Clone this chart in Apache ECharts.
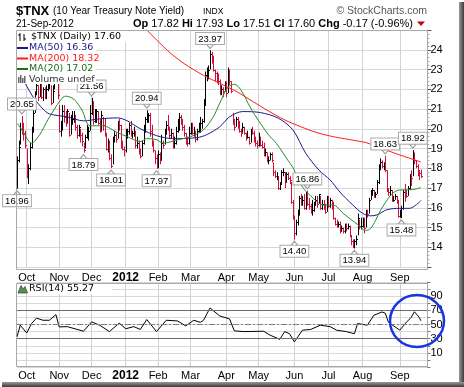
<!DOCTYPE html>
<html><head><meta charset="utf-8">
<script src="https://cdn.jsdelivr.net/npm/echarts/dist/echarts.min.js"></script>
<style>html,body{margin:0;padding:0;background:#fff;overflow:hidden}#c{width:464px;height:387px}</style>
</head><body><div id="c"></div>
<script>
// ---------- DATA ----------
const holidays = ['2011-10-10','2011-11-11','2011-11-24','2011-12-26','2012-01-02','2012-01-16',
  '2012-02-20','2012-04-06','2012-05-28','2012-07-04','2012-09-03'];
const firstDay = '2011-09-23', lastDay = '2012-09-21';
const prevClose0 = 17.2; // close of the day before the first bar

const highs = [
 18.6,19.4,20.3,20.65,20.3,19.9,
 19.0,18.2,19.3,20.1,21.1,21.9,22.6,22.2,22.7,22.6,22.1,22.1,22.2,22.5,22.5,22.2,22.2,24.2,24.1,23.3,
 21.2,20.4,21.2,21.2,20.9,21.0,20.8,20.7,20.9,20.9,20.7,20.2,20.2,20.0,19.8,19.3,19.7,20.2,20.1,21.2,
 21.56,21.4,21.0,21.0,20.9,20.5,20.9,20.6,20.5,19.8,19.5,19.4,18.7,19.6,19.9,19.8,20.4,20.5,20.2,19.4,19.1,
 20.0,20.0,20.3,20.4,19.9,20.1,19.9,19.6,19.4,19.0,19.4,20.2,20.6,20.94,20.8,20.8,20.2,19.4,18.9,18.7,
 18.9,18.8,19.7,19.4,20.0,20.4,20.7,20.1,20.0,19.8,19.6,20.1,20.5,20.8,20.7,20.5,20.2,19.8,19.6,20.1,
 20.3,20.3,20.1,19.9,20.0,20.3,20.6,20.5,21.5,22.9,23.1,23.2,23.97,23.9,23.7,23.0,22.9,22.8,22.5,22.2,22.1,22.4,
 22.4,23.1,23.0,22.4,20.8,20.5,20.6,20.6,20.4,20.0,20.3,20.1,19.8,19.9,19.6,20.0,20.1,19.9,19.6,19.4,
 19.8,19.6,19.4,19.3,19.0,18.8,18.6,18.8,18.8,18.3,17.9,17.8,17.6,17.3,17.9,18.0,17.8,17.8,17.8,17.6,17.3,16.4,
 15.6,15.4,15.9,16.6,16.7,16.6,16.7,16.8,16.86,16.5,16.2,16.4,16.3,16.6,16.6,16.7,16.6,16.4,16.4,16.2,16.6,
 16.6,16.5,16.4,16.3,15.5,15.4,15.3,15.3,15.1,15.0,15.2,15.2,15.2,15.1,14.6,14.4,14.4,14.6,15.7,15.4,15.5,
 15.5,15.5,15.9,15.9,16.5,16.9,17.0,16.9,16.8,17.4,18.2,18.5,18.4,18.3,18.63,17.9,17.0,17.1,16.9,16.6,16.7,16.6,16.4,
 15.9,16.1,16.9,17.2,16.9,17.1,17.7,17.9,18.92,18.8,18.4,18.2,17.9,17.93
];
const lows = [
 16.96,18.3,19.2,19.7,19.4,19.0,
 17.5,17.2,17.9,19.0,19.8,20.8,21.7,21.4,21.6,21.5,21.4,21.5,21.5,21.9,22.0,21.2,21.3,22.0,23.2,21.5,
 19.8,19.6,19.9,20.3,20.1,20.3,19.6,19.7,20.2,20.3,19.9,19.5,19.6,19.3,19.1,18.79,19.0,19.5,19.4,19.9,
 20.7,20.2,20.3,20.3,20.2,19.8,19.9,19.9,19.6,18.9,18.8,18.4,18.01,18.2,19.3,19.3,19.5,19.9,19.0,18.9,18.6,
 18.8,19.5,19.7,19.6,19.5,19.6,19.0,19.0,18.7,18.5,18.6,19.2,19.8,20.3,20.3,19.6,19.1,18.8,18.2,17.97,
 18.0,18.2,18.4,19.0,19.2,19.7,19.9,19.5,19.5,19.0,19.0,19.2,19.8,19.9,20.2,19.9,19.6,19.2,19.1,19.2,
 19.7,19.7,19.6,19.3,19.4,19.8,19.8,20.0,20.3,21.2,22.4,22.5,23.0,23.3,22.9,22.4,22.3,22.2,21.7,21.7,21.6,21.9,
 21.6,21.8,22.2,21.8,20.2,19.9,20.1,20.0,19.8,19.6,19.8,19.7,19.4,19.5,19.2,19.3,19.7,19.3,19.1,19.0,
 19.1,19.1,19.0,18.6,18.6,18.3,18.2,18.4,18.3,17.6,17.5,17.4,16.9,16.9,17.2,17.6,17.0,17.3,17.4,17.2,16.2,15.4,
 14.40,14.6,15.1,15.6,16.1,16.1,15.9,15.9,16.1,15.9,15.7,15.6,15.8,16.1,16.0,16.2,15.9,15.9,15.9,15.7,15.8,
 16.0,16.0,15.9,15.4,15.1,15.0,15.0,14.7,14.8,14.7,14.7,14.8,14.9,14.5,14.1,13.97,13.94,14.1,14.6,14.9,14.9,
 15.0,14.7,15.0,15.5,15.7,16.4,16.6,16.5,16.5,16.7,17.2,17.9,18.0,17.9,17.8,16.8,16.6,16.6,16.3,16.3,16.4,16.2,15.5,
 15.5,15.48,15.9,16.3,16.5,16.6,16.9,17.1,17.6,18.2,18.0,17.6,17.4,17.51
];
const closes = [
 18.4,19.1,20.0,19.9,19.8,19.2,
 17.6,18.0,19.1,20.0,20.8,21.8,22.2,21.6,22.6,21.6,22.0,21.7,22.0,22.3,22.3,21.3,21.9,24.0,23.3,21.7,
 19.9,20.0,20.9,20.6,20.3,20.9,19.7,20.5,20.5,20.6,20.1,19.7,20.1,19.7,19.4,18.9,19.6,19.6,19.9,20.8,
 21.1,20.4,20.5,20.9,20.3,19.9,20.7,20.2,19.8,19.0,19.3,18.5,18.1,19.5,19.7,19.5,20.3,20.2,19.1,19.0,18.9,
 19.7,19.9,20.2,19.8,19.8,19.8,19.2,19.3,18.9,18.6,19.3,19.9,20.5,20.7,20.7,19.9,19.3,18.9,18.5,18.3,
 18.7,18.4,19.3,19.2,19.8,20.2,20.0,19.7,19.8,19.1,19.3,19.9,20.0,20.6,20.5,20.1,19.8,19.4,19.3,19.8,
 20.2,19.8,19.9,19.5,19.9,20.1,20.3,20.4,21.2,22.7,22.9,23.0,23.8,23.6,23.0,22.8,22.5,22.4,21.8,22.0,21.9,22.3,
 21.8,23.0,22.4,21.9,20.3,20.1,20.5,20.3,19.9,19.8,20.1,19.8,19.6,19.6,19.3,19.9,19.8,19.4,19.3,19.2,
 19.5,19.2,19.1,18.8,18.8,18.4,18.4,18.7,18.4,17.8,17.6,17.6,17.0,17.2,17.8,17.8,17.3,17.7,17.5,17.4,16.3,15.6,
 14.7,15.3,15.7,16.5,16.3,16.4,16.0,16.6,16.2,16.1,15.8,15.9,16.2,16.4,16.2,16.7,16.0,16.2,16.0,15.8,16.5,
 16.1,16.4,16.0,15.5,15.2,15.1,15.2,14.8,15.0,14.8,15.1,15.0,15.1,14.6,14.3,14.0,14.3,14.4,15.5,15.1,15.1,
 15.3,15.0,15.8,15.7,16.4,16.9,16.9,16.6,16.7,17.3,18.1,18.3,18.1,18.1,17.9,16.9,16.8,16.9,16.4,16.4,16.6,16.3,15.6,
 15.7,16.0,16.8,16.7,16.6,17.0,17.6,17.5,18.7,18.4,18.1,17.9,17.77,17.60
];
const lastOpen = 17.82;

// moving averages, read at sample points (trading-day index -> value)
const ma50Idx  = [0,5,10,16,20,31,41,51,62,68,76,86,96,111,117,125,131,139,150,161,170,178,186,193,199,207,213,218,222,228,236,242,249];
const ma50Val  = [23.0,22.3,21.6,21.0,20.75,20.6,20.4,20.5,20.55,20.4,20.0,19.65,19.5,19.55,19.7,20.1,20.6,20.87,20.82,20.54,19.95,18.76,17.92,17.41,16.8,16.14,15.72,15.59,15.64,15.9,15.97,15.97,16.36];
const ma200Idx = [0,30,60,80,86,95,103,115,125,135,145,155,165,175,185,195,205,215,225,235,249];
const ma200Val = [31.0,28.7,26.6,25.0,24.5,23.8,23.3,22.7,22.3,21.9,21.4,20.9,20.45,20.1,19.8,19.6,19.45,19.3,19.0,18.7,18.32];
const ma20Idx  = [0,3,9,14,19,27,30,35,40,45,53,62,68,76,80,86,90,99,107,115,121,125,130,134,138,144,149,155,160,167,170,173,176,181,189,195,201,206,210,215,218,221,224,227,230,233,236,244,249];
const ma20Val  = [20.28,19.95,19.27,19.7,20.45,21.47,21.65,21.5,20.95,20.15,20.15,19.8,19.6,19.35,19.5,19.45,19.27,19.44,19.6,19.95,20.6,21.3,22.1,22.25,21.97,21.05,20.4,19.7,19.25,18.4,18.05,17.5,17.05,16.6,16.14,16.14,15.72,15.4,15.15,14.85,14.95,15.35,15.85,16.25,16.6,16.82,16.9,16.92,17.02];
const rsiIdx = [0,2,6,9,12,16,20,24,26,31,41,46,51,57,63,67,72,76,80,86,92,99,104,109,113,115,119,125,131,134,140,152,156,162,165,168,171,176,181,187,193,197,203,208,210,216,220,225,227,229,236,240,243,245,248,249];
const rsiVal = [32.5,49,38,51.4,59,56,56,64,46.6,47,40.5,53.7,49,40,52,44,47,43,57,40,56,55,48,56,53,56,73.4,62,58,41,40,40.5,35,29,40,37,25.5,42,43,49,47,42,40,37,51.4,49,63,67.7,66,53,42,53,60,68,60,55.27];

// annotated highs / lows
const annDates = ['2011-09-23','2011-09-28','2011-11-23','2011-12-01','2011-12-19','2012-01-23','2012-01-31','2012-03-19','2012-06-01','2012-06-13','2012-07-25','2012-08-21','2012-09-05','2012-09-14'];
const annKinds = ['low','high','low','high','low','high','low','high','low','high','low','high','low','high'];

// ---------- CALENDAR ----------
const dates = [];
for (let t = Date.parse(firstDay + 'T00:00:00Z'); t <= Date.parse(lastDay + 'T00:00:00Z'); t += 86400000) {
  const d = new Date(t), wd = d.getUTCDay(), s = d.toISOString().slice(0, 10);
  if (wd === 0 || wd === 6 || holidays.includes(s)) continue;
  dates.push(s);
}
const categories = dates.concat(['pad1','pad2','pad3','pad4']);
const monthNames = ['2012','Feb','Mar','Apr','May','Jun','Jul','Aug','Sep','Oct','Nov','Dec'];
const monStart = (i) => i > 0 && i < dates.length && dates[i].slice(5,7) !== dates[i-1].slice(5,7);
const monLabel = (v, i) => {
  if (!monStart(i)) return '';
  const m = +dates[i].slice(5,7);
  return m === 1 ? '{y|2012}' : monthNames[m-1];
};

const N = dates.length;
const barData = dates.map((d, i) => [i, highs[i], lows[i], closes[i],
  closes[i] < (i ? closes[i-1] : prevClose0) ? 1 : 0]);
const pairs = (idx, val) => idx.map((i, k) => [i, val[k]]);

const FONT = 'Liberation Sans';
const LFONT = 'DejaVu Sans';
const RED = '#d0103a';

const markPts = annDates.map((d, k) => {
  const i = dates.indexOf(d);
  const hi = annKinds[k] === 'high';
  const v = hi ? highs[i] : lows[i];
  return {
    coord: [i, v], value: v,
    symbol: 'triangle', symbolRotate: hi ? 180 : 0, symbolSize: [7, 4], symbolOffset: [0, hi ? -4 : 4],
    itemStyle: {color: '#fff', borderColor: '#999', borderWidth: 1},
    label: {show: true, position: hi ? 'top' : 'bottom', distance: 0,
      formatter: v.toFixed(2), fontFamily: FONT, fontSize: 9.5, color: '#000',
      backgroundColor: '#fff', borderColor: '#aaa', borderWidth: 1, padding: [1, 2, 0, 2]}
  };
});

const last = N - 1;
const chg = closes[last] - closes[last-1];
const pct = chg / closes[last-1] * 100;
const mon3 = ['Jan','Feb','Mar','Apr','May','Jun','Jul','Aug','Sep','Oct','Nov','Dec'];
const dateLabel = (+dates[last].slice(8,10)) + '-' + mon3[+dates[last].slice(5,7)-1] + '-' + dates[last].slice(0,4);

// ---------- GRAPHICS (header, legends, frames) ----------
const g = [];
g.push({type:'text', x:16, y:11, z:100, style:{text:'$TNX', font:'bold 13px "'+FONT+'"', fill:'#000', verticalAlign:'middle'}});
g.push({type:'text', x:53, y:11, z:100, style:{text:'(10 Year Treasury Note Yield)', font:'10px "'+FONT+'"', fill:'#000', verticalAlign:'middle'}});
g.push({type:'text', x:203, y:12, z:100, style:{text:'INDX', font:'8.5px "'+FONT+'"', fill:'#000', verticalAlign:'middle'}});
g.push({type:'text', x:427, y:11, z:100, style:{text:'\u00a9 StockCharts.com', font:'10.5px "'+FONT+'"', fill:'#555', align:'right', verticalAlign:'middle'}});
g.push({type:'text', x:16, y:24, z:100, style:{text:dateLabel, font:'10px "'+FONT+'"', fill:'#000', verticalAlign:'middle'}});
g.push({type:'text', x:413, y:24, z:100, style:{
  text:'{b|Op} ' + lastOpen.toFixed(2) + ' {b|Hi} ' + highs[last].toFixed(2) + ' {b|Lo} ' + lows[last].toFixed(2) +
       ' {b|Cl} ' + closes[last].toFixed(2) + ' {b|Chg} ' + chg.toFixed(2) + ' (' + pct.toFixed(2) + '%)',
  font:'11px "'+FONT+'"', fill:'#000', align:'right', verticalAlign:'middle',
  rich:{b:{fontWeight:'bold', fontSize:11, fontFamily:FONT}}}});
g.push({type:'polygon', z:100, shape:{points:[[417,21.5],[425,21.5],[421,26]]}, style:{fill:'#cc0000'}});

// frames
g.push({type:'rect', z:50, shape:{x:16.5, y:30.5, width:411, height:239}, style:{fill:null, stroke:'#a8a8a8', lineWidth:1}});
g.push({type:'rect', z:50, shape:{x:16.5, y:283.5, width:411, height:83}, style:{fill:null, stroke:'#a8a8a8', lineWidth:1}});

// price legend
g.push({type:'rect', z:90, shape:{x:17, y:31, width:122, height:11}, style:{fill:'#fff'}});
g.push({type:'rect', z:90, shape:{x:17, y:42, width:79, height:42}, style:{fill:'#fff'}});
g.push({type:'polyline', z:95, shape:{points:[[20,33],[20,41]]}, style:{stroke:'#000', lineWidth:1}});
g.push({type:'polyline', z:95, shape:{points:[[18,35],[20,35]]}, style:{stroke:'#000', lineWidth:1}});
g.push({type:'polyline', z:95, shape:{points:[[24,34],[24,41]]}, style:{stroke:'#000', lineWidth:1}});
g.push({type:'polyline', z:95, shape:{points:[[24,39],[26,39]]}, style:{stroke:'#000', lineWidth:1}});
g.push({type:'text', x:31, y:37, z:96, style:{text:'$TNX (Daily) ' + closes[last].toFixed(2), font:'9.5px "'+LFONT+'"', fill:'#000', verticalAlign:'middle'}});
const legRows = [
  {t:'MA(50) ' + ma50Val[ma50Val.length-1].toFixed(2), c:'#1a1a8e', y:48},
  {t:'MA(200) ' + ma200Val[ma200Val.length-1].toFixed(2), c:'#ff1a1a', y:58.5},
  {t:'MA(20) ' + ma20Val[ma20Val.length-1].toFixed(2), c:'#1e6e1e', y:69}
];
legRows.forEach(r => {
  g.push({type:'rect', z:95, shape:{x:17, y:r.y-1, width:11, height:2}, style:{fill:r.c}});
  g.push({type:'text', x:29, y:r.y, z:96, style:{text:r.t, font:'9.5px "'+LFONT+'"', fill:r.c, verticalAlign:'middle'}});
});
[[18,77],[20,75],[22,78],[24,76]].forEach(b => g.push({type:'rect', z:95, shape:{x:b[0], y:b[1], width:1.5, height:83-b[1]}, style:{fill:'#666'}}));
g.push({type:'text', x:29, y:79.5, z:96, style:{text:'Volume undef', font:'9.5px "'+LFONT+'"', fill:'#333', verticalAlign:'middle'}});

// RSI legend
g.push({type:'rect', z:90, shape:{x:17, y:284, width:95, height:10}, style:{fill:'#fff'}});
g.push({type:'polygon', z:95, shape:{points:[[18,293],[21,285.5],[23,289],[25,286.5],[27.5,293]]}, style:{fill:'#5a8a5a', stroke:'#2e5e2e', lineWidth:0.8}});
g.push({type:'text', x:29, y:289, z:96, style:{text:'RSI(14) ' + rsiVal[rsiVal.length-1].toFixed(2), font:'9.5px "'+LFONT+'"', fill:'#000', verticalAlign:'middle'}});

// highlight circle
g.push({type:'ellipse', z:120, shape:{cx:417, cy:321, rx:27, ry:26}, style:{fill:null, stroke:'#1536e6', lineWidth:2.5}});

// drop shadow
g.push({type:'rect', z:1, shape:{x:459, y:2, width:5, height:385}, style:{fill:{type:'linear', x:0, y:0, x2:1, y2:0, colorStops:[{offset:0, color:'#9a9a9a'},{offset:1, color:'#3a3a3a'}]}}});
g.push({type:'rect', z:1, shape:{x:2, y:382, width:462, height:5}, style:{fill:{type:'linear', x:0, y:0, x2:0, y2:1, colorStops:[{offset:0, color:'#9a9a9a'},{offset:1, color:'#3a3a3a'}]}}});

// ---------- CHART ----------
const xCommon = (gi, margin) => ({
  type:'category', gridIndex:gi, data:categories, boundaryGap:false,
  axisLine:{show:false}, axisTick:{show:false},
  axisLabel:{interval:(i) => monStart(i), formatter:monLabel, fontFamily:FONT, fontSize:11, color:'#000', margin:margin,
    hideOverlap:false, rich:{y:{fontWeight:'bold', fontFamily:FONT, fontSize:12, color:'#000'}}},
  splitLine:{show:true, interval:(i) => monStart(i), lineStyle:{color:'#d2d2d2', width:1}}
});

const option = {
  animation:false,
  backgroundColor:'#fff',
  grid:[
    {left:17, top:30, width:410.4, height:237, outerBoundsMode:'none', containLabel:false},
    {left:17, top:282, width:410.4, height:85, outerBoundsMode:'none', containLabel:false}
  ],
  xAxis:[xCommon(0, 5), xCommon(1, 3)],
  yAxis:[
    {type:'value', gridIndex:0, position:'right', min:13, max:25, interval:1,
     axisLine:{show:true, lineStyle:{color:'#aaa'}}, axisTick:{show:true, length:4, lineStyle:{color:'#555'}},
     minorTick:{show:true, splitNumber:5, length:2, lineStyle:{color:'#aaa'}},
     axisLabel:{formatter:(v) => (v >= 14 && v <= 24) ? String(v) : '', fontFamily:FONT, fontSize:11, color:'#000', margin:3},
     splitLine:{show:true, lineStyle:{color:'#d8d8d8'}}},
    {type:'value', gridIndex:1, position:'right', min:-10, max:110, interval:10,
     axisLine:{show:true, lineStyle:{color:'#aaa'}}, axisTick:{show:true, length:3, lineStyle:{color:'#777'}},
     axisLabel:{formatter:(v) => [10,30,50,70,90].includes(v) ? String(v) : '', fontFamily:FONT, fontSize:11, color:'#000', margin:3},
     splitLine:{show:true, lineStyle:{color:'#d8d8d8'}}}
  ],
  series:[
    {type:'custom', name:'$TNX', xAxisIndex:0, yAxisIndex:0, data:barData, clip:true, z:3,
     encode:{x:0, y:[1,2,3]},
     renderItem:(params, api) => {
       const i = api.value(0);
       const top = api.coord([i, api.value(1)]);
       const bot = api.coord([i, api.value(2)]);
       const cl = api.coord([i, api.value(3)]);
       const x = Math.round(top[0]) + 0.5;
       const yc = Math.round(cl[1]) + 0.5;
       const color = api.value(4) ? RED : '#000';
       return {type:'group', children:[
         {type:'line', shape:{x1:x, y1:top[1], x2:x, y2:bot[1]}, style:{stroke:color, lineWidth:1}},
         {type:'line', shape:{x1:x, y1:yc, x2:x+1.5, y2:yc}, style:{stroke:color, lineWidth:1}}
       ]};
     }},
    {type:'line', name:'MA(50)', xAxisIndex:0, yAxisIndex:0, data:pairs(ma50Idx, ma50Val), smooth:0.3,
     symbol:'none', lineStyle:{color:'#1a1a8e', width:1}, z:4},
    {type:'line', name:'MA(200)', xAxisIndex:0, yAxisIndex:0, data:pairs(ma200Idx, ma200Val), smooth:0.3,
     symbol:'none', lineStyle:{color:'#ff1a1a', width:1}, z:4},
    {type:'line', name:'MA(20)', xAxisIndex:0, yAxisIndex:0, data:pairs(ma20Idx, ma20Val), smooth:0.3,
     symbol:'none', lineStyle:{color:'#2a8a2a', width:1}, z:4,
     markPoint:{data:markPts, z:20, animation:false, silent:true}},
    {type:'line', name:'RSI(14)', xAxisIndex:1, yAxisIndex:1, data:pairs(rsiIdx, rsiVal),
     symbol:'none', lineStyle:{color:'#000', width:1}, z:4,
     markLine:{silent:true, symbol:'none', label:{show:false}, animation:false,
       data:[
         {yAxis:70, lineStyle:{color:'#6a6a6a', width:1, type:'solid'}},
         {yAxis:30, lineStyle:{color:'#6a6a6a', width:1, type:'solid'}},
         {yAxis:50, lineStyle:{color:'#808080', width:1, type:[6,2,2,2]}}
       ]}}
  ],
  graphic:g
};
const chart = echarts.init(document.getElementById('c'));
chart.setOption(option);
</script></body></html>
